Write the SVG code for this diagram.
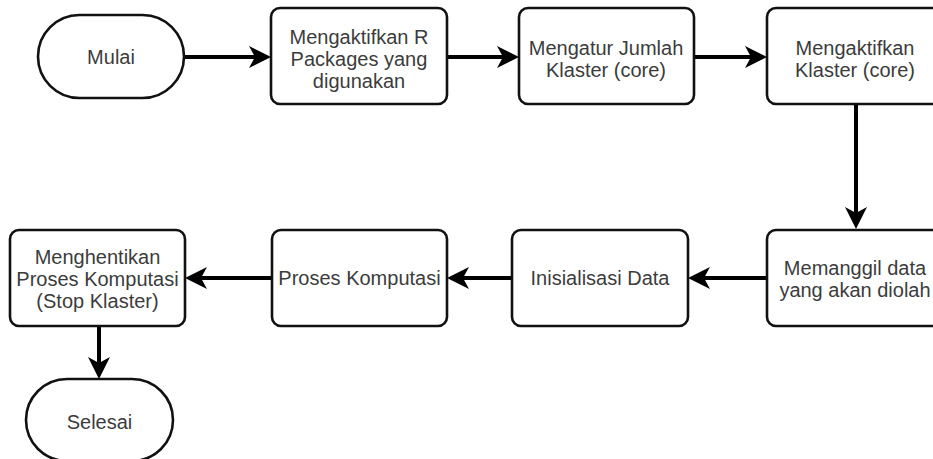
<svg xmlns="http://www.w3.org/2000/svg" width="933" height="459" viewBox="0 0 933 459">
<style>
.node{fill:#ffffff;stroke:#111111;stroke-width:2.6}
.lbl{font-family:"Liberation Sans",Arial,sans-serif;font-size:20px;fill:#3c3c3c;text-anchor:middle}
.edge{stroke:#000000;stroke-width:4;fill:none}
</style>
<defs>
<marker id="arr" markerUnits="userSpaceOnUse" viewBox="0 0 22 22" markerWidth="22" markerHeight="22" refX="12" refY="11" orient="auto">
<path d="M22,11 L0,0 L6,11 L0,22 Z" fill="#000000"/>
</marker>
</defs>
<rect x="0" y="0" width="933" height="459" fill="#ffffff"/>
<g id="connectors">
<line class="edge" x1="184" y1="57" x2="261" y2="57" marker-end="url(#arr)"/>
<line class="edge" x1="447" y1="57" x2="509" y2="57" marker-end="url(#arr)"/>
<line class="edge" x1="694" y1="57" x2="757" y2="57" marker-end="url(#arr)"/>
<line class="edge" x1="856" y1="104" x2="856" y2="219" marker-end="url(#arr)"/>
<line class="edge" x1="767" y1="278" x2="698" y2="278" marker-end="url(#arr)"/>
<line class="edge" x1="512" y1="278" x2="457" y2="278" marker-end="url(#arr)"/>
<line class="edge" x1="272" y1="278" x2="195" y2="278" marker-end="url(#arr)"/>
<line class="edge" x1="99" y1="326" x2="99" y2="369" marker-end="url(#arr)"/>
</g>
<g id="mulai">
<rect class="node" x="38" y="15" width="146" height="83" rx="41.5" ry="41.5"/>
<text class="lbl" x="111" y="64">Mulai</text>
</g>
<g id="packages">
<rect class="node" x="271" y="8" width="176" height="96" rx="9"/>
<text class="lbl" x="359" y="44">Mengaktifkan R</text>
<text class="lbl" x="359" y="66">Packages yang</text>
<text class="lbl" x="359" y="88">digunakan</text>
</g>
<g id="jumlah">
<rect class="node" x="519" y="8" width="175" height="96" rx="9"/>
<text class="lbl" x="606" y="55">Mengatur Jumlah</text>
<text class="lbl" x="606" y="77">Klaster (core)</text>
</g>
<g id="aktifkan">
<rect class="node" x="767" y="8" width="176" height="96" rx="9"/>
<text class="lbl" x="855" y="55">Mengaktifkan</text>
<text class="lbl" x="855" y="77">Klaster (core)</text>
</g>
<g id="memanggil">
<rect class="node" x="767" y="230" width="176" height="96" rx="9"/>
<text class="lbl" x="855" y="275">Memanggil data</text>
<text class="lbl" x="855" y="297">yang akan diolah</text>
</g>
<g id="inisialisasi">
<rect class="node" x="512" y="230" width="176" height="96" rx="9"/>
<text class="lbl" x="600" y="285">Inisialisasi Data</text>
</g>
<g id="proses">
<rect class="node" x="272" y="230" width="175" height="96" rx="9"/>
<text class="lbl" x="359.5" y="285">Proses Komputasi</text>
</g>
<g id="menghentikan">
<rect class="node" x="10" y="230" width="175" height="96" rx="9"/>
<text class="lbl" x="97.5" y="264">Menghentikan</text>
<text class="lbl" x="97.5" y="286">Proses Komputasi</text>
<text class="lbl" x="97.5" y="308">(Stop Klaster)</text>
</g>
<g id="selesai">
<rect class="node" x="26" y="379" width="147" height="82" rx="41" ry="41"/>
<text class="lbl" x="99.5" y="429">Selesai</text>
</g>
</svg>
